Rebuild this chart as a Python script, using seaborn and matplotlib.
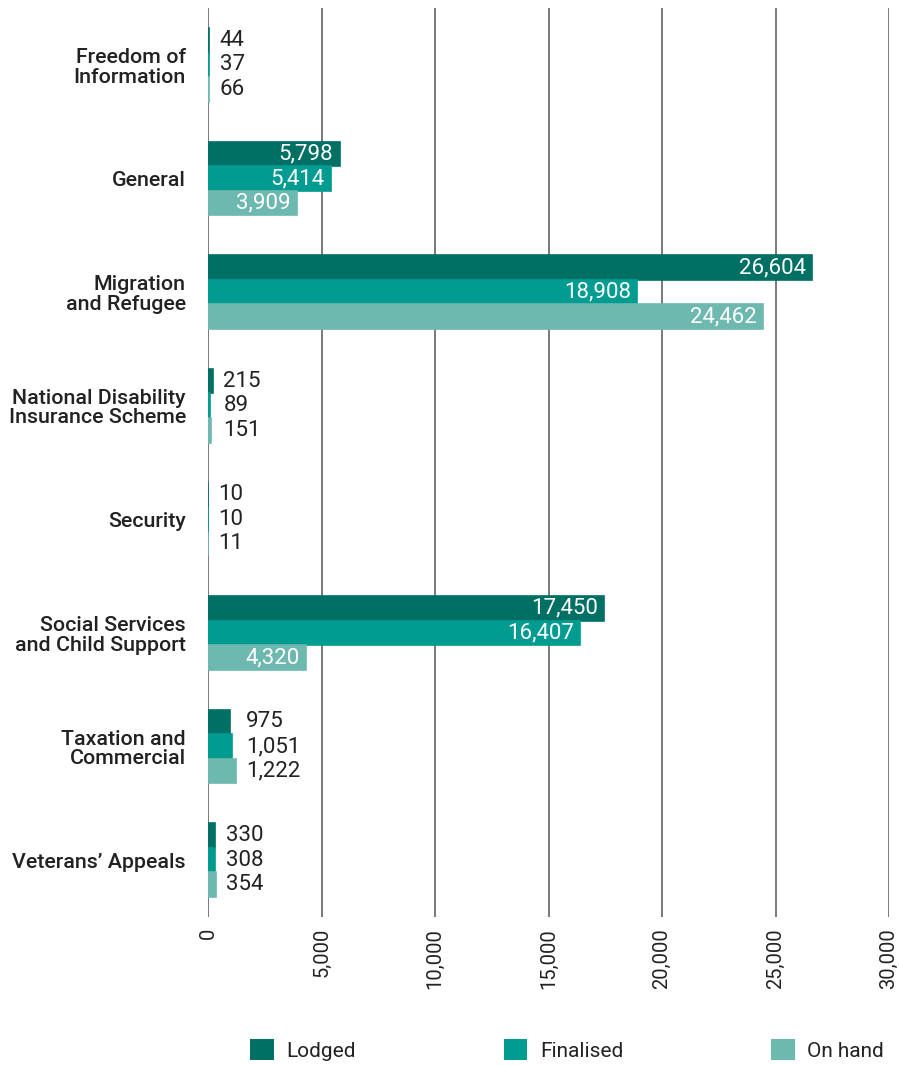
import matplotlib
matplotlib.use("Agg")
import matplotlib.pyplot as plt
import seaborn as sns
import pandas as pd
from matplotlib.patches import Patch

categories = [
    "Freedom of\nInformation",
    "General",
    "Migration\nand Refugee",
    "National Disability\nInsurance Scheme",
    "Security",
    "Social Services\nand Child Support",
    "Taxation and\nCommercial",
    "Veterans\u2019 Appeals",
]
series = ["Lodged", "Finalised", "On hand"]
lodged = [44, 5798, 26604, 215, 10, 17450, 975, 330]
finalised = [37, 5414, 18908, 89, 10, 16407, 1051, 308]
on_hand = [66, 3909, 24462, 151, 11, 4320, 1222, 354]
x_ticks = [0, 5000, 10000, 15000, 20000, 25000, 30000]

colors = ["#007064", "#009B91", "#6DB8AF"]

sns.set_theme(style="white")
plt.rcParams["font.family"] = ["Roboto", "DejaVu Sans"]

rows = []
for name, vals in zip(series, [lodged, finalised, on_hand]):
    for cat, v in zip(categories, vals):
        rows.append({"category": cat, "series": name, "value": v})
df = pd.DataFrame(rows)

fig = plt.figure(figsize=(8.99, 10.65), dpi=100)
ax = fig.add_axes([208 / 899, 1 - 917 / 1065, (889 - 208) / 899, (917 - 8) / 1065])

sns.barplot(
    data=df, y="category", x="value", hue="series", order=categories,
    hue_order=series, palette=colors, orient="h", width=0.65, ax=ax,
    legend=False, saturation=1, linewidth=0, errorbar=None,
)

# a hairline outline in the bar colour keeps the tiny counts visible
for container, c in zip(ax.containers, colors):
    for bar in container.patches:
        bar.set_edgecolor(c)
        bar.set_linewidth(1.2)

ax.set_xlim(0, 30000)
ax.set_ylim(7.5, -0.5)
ax.set_xticks(x_ticks)
ax.set_xticklabels([f"{t:,}" for t in x_ticks], rotation=90, va="top",
                   fontsize=14.5, color="#222222")
ax.tick_params(axis="x", length=0, pad=8)
ax.tick_params(axis="y", length=0, pad=16)
for lbl in ax.get_yticklabels():
    lbl.set_fontsize(15.4)
    lbl.set_fontweight("medium")
    lbl.set_color("#222222")
    lbl.set_linespacing(1.05)
ax.set_xlabel("")
ax.set_ylabel("")
ax.grid(axis="x", color="#555555", linewidth=1.1)
ax.grid(axis="y", visible=False)
ax.set_axisbelow(True)
for s in ax.spines.values():
    s.set_visible(False)

# value labels: white inside long bars, dark beside short ones
all_vals = [lodged, finalised, on_hand]
for container, vals in zip(ax.containers, all_vals):
    for i, (bar, v) in enumerate(zip(container.patches, vals)):
        yc = bar.get_y() + bar.get_height() / 2
        txt = f"{v:,}"
        if v >= 2000:
            ax.annotate(txt, (bar.get_width(), yc), xytext=(-4.5, 0),
                        textcoords="offset points", ha="right", va="center",
                        color="white", fontsize=16)
        else:
            group_max = max(lodged[i], finalised[i], on_hand[i])
            ax.annotate(txt, (group_max, yc), xytext=(7.5, 0),
                        textcoords="offset points", ha="left", va="center",
                        color="#222222", fontsize=16)

handles = [Patch(facecolor=c, edgecolor="none") for c in colors]
fig.legend(handles, series, loc="lower left", ncol=3, mode="expand",
           bbox_to_anchor=(244 / 899, -2 / 1065, (890 - 244) / 899, 40 / 1065),
           frameon=False, fontsize=15, handlelength=1.15, handleheight=1.15,
           handletextpad=0.6, borderaxespad=0.0, borderpad=0.3,
           labelcolor="#222222")

fig.savefig("out.png", dpi=100)
